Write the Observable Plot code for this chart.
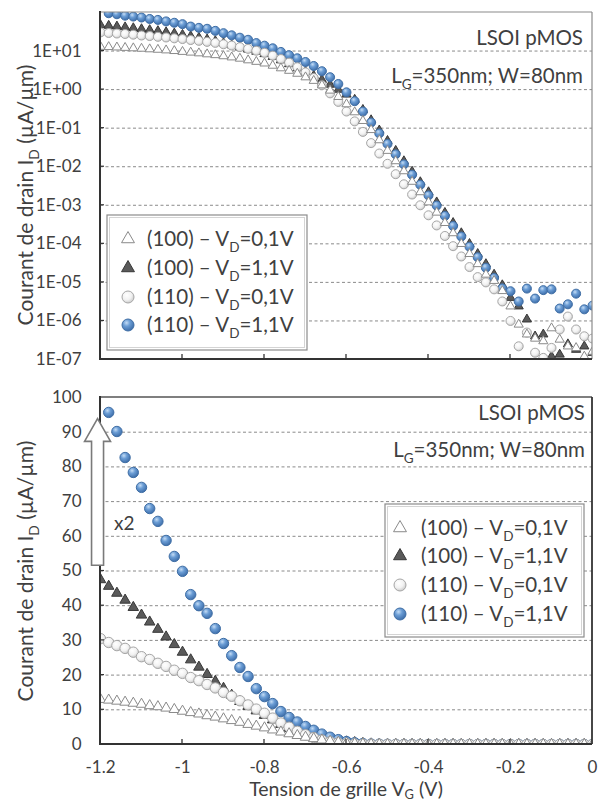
<!DOCTYPE html>
<html><head><meta charset="utf-8">
<script src="https://cdn.jsdelivr.net/npm/d3@7"></script>
<script src="https://cdn.jsdelivr.net/npm/@observablehq/plot@0.6"></script>
<style>
html,body{margin:0;padding:0;background:#fff;}
#chart{width:598px;height:802px;overflow:hidden;}
#chart svg{display:block;}
</style></head><body><div id="chart"></div>
<script>
// ---------------- DATA ----------------
const vg = [-1.2,-1.18,-1.16,-1.14,-1.12,-1.1,-1.08,-1.06,-1.04,-1.02,
  -1,-0.98,-0.96,-0.94,-0.92,-0.9,-0.88,-0.86,-0.84,-0.82,
  -0.8,-0.78,-0.76,-0.74,-0.72,-0.7,-0.68,-0.66,-0.64,-0.62,
  -0.6,-0.58,-0.56,-0.54,-0.52,-0.5,-0.48,-0.46,-0.44,-0.42,
  -0.4,-0.38,-0.36,-0.34,-0.32,-0.3,-0.28,-0.26,-0.24,-0.22,
  -0.2,-0.18,-0.16,-0.14,-0.12,-0.1,-0.08,-0.06,-0.04,-0.02,0];

// (100) - VD=0,1V  (µA/µm)
const id100_01 = [13.0,12.8,12.5,12.2,11.9,11.6,11.2,10.9,10.5,10.1,
  9.6,9.2,8.8,8.3,7.9,7.4,6.9,6.4,5.8,5.3,
  4.8,4.2,3.6,3.1,2.6,2.1,1.7,1.3,0.95,0.65,
  0.42,0.26,0.155,0.09,0.049,0.026,0.014,0.0077,0.0041,0.0022,
  1.2e-3,6.5e-4,3.5e-4,1.9e-4,1.0e-4,5.5e-5,3.0e-5,1.6e-5,1.1e-5,6.0e-6,
  2.4e-6,8.1e-7,4.5e-7,3.5e-7,3.0e-7,6.5e-7,3.3e-7,2.2e-7,2.0e-7,1.2e-7,
  1.6e-7];
// (100) - VD=1,1V
const id100_11 = [47.5,45.6,43.6,41.6,39.5,37.3,35.3,33.2,31.0,28.8,
  26.6,24.4,22.3,20.2,18.2,16.2,14.2,12.4,11.0,9.7,
  8.4,7.1,5.8,4.6,3.6,2.9,2.3,1.8,1.35,1.0,
  0.75,0.55,0.30,0.162,0.088,0.047,0.026,0.014,0.0075,0.004,
  2.2e-3,1.2e-3,6.4e-4,3.5e-4,1.9e-4,1.0e-4,5.5e-5,3.0e-5,1.6e-5,8.5e-6,
  4.0e-6,2.4e-6,1.1e-6,4.0e-7,4.5e-7,1.2e-7,1.35e-7,2.5e-7,1.8e-7,2.2e-7,
  1.5e-7];
// (110) - VD=0,1V
const id110_01 = [30.5,29.4,28.5,27.7,26.6,25.3,24.5,23.4,22.5,21.4,
  20.5,19.3,18.4,17.3,16.3,15.0,13.9,12.6,11.4,10.2,
  9.0,7.6,6.2,5.0,3.8,2.8,2.0,1.3,0.8,0.48,
  0.27,0.15,0.08,0.041,0.022,0.0119,0.0064,0.0035,0.0019,0.001,
  5.5e-4,3.0e-4,1.6e-4,8.7e-5,4.7e-5,2.5e-5,1.37e-5,1.0e-5,6.6e-6,3.2e-6,
  1.0e-6,2.2e-7,5.0e-7,1.5e-7,1.1e-7,2.0e-7,6.0e-7,1.3e-6,6.0e-7,4.0e-7,
  3.5e-7];
// (110) - VD=1,1V
const id110_11 = [null,95.7,90.2,82.7,78.4,74.1,68.0,64.3,58.8,54.2,
  49.9,43.2,40.0,37.8,33.4,29.1,25.6,22.2,19.6,16.1,
  13.8,11.8,9.5,7.8,6.5,5.2,4.1,3.0,2.1,1.4,
  0.85,0.5,0.27,0.14,0.073,0.039,0.021,0.0115,0.0062,0.0034,
  1.8e-3,9.8e-4,5.3e-4,2.9e-4,1.55e-4,8.4e-5,4.5e-5,2.4e-5,1.3e-5,7.0e-6,
  5.9e-6,3.2e-6,6.9e-6,3.8e-6,6.3e-6,6.6e-6,2.1e-6,2.7e-6,5.1e-6,2.0e-6,
  2.5e-6];

const legendOrient = ["(100)", "(100)", "(110)", "(110)"];
const legendVd = ["0,1V", "1,1V", "0,1V", "1,1V"];

const xTicks = [-1.2, -1, -0.8, -0.6, -0.4, -0.2, 0];
const xTickLabels = ["-1.2", "-1", "-0.8", "-0.6", "-0.4", "-0.2", "0"];
const yTicksLog = [1e1, 1e0, 1e-1, 1e-2, 1e-3, 1e-4, 1e-5, 1e-6, 1e-7];
const yTickLabelsLog = ["1E+01","1E+00","1E-01","1E-02","1E-03","1E-04","1E-05","1E-06","1E-07"];
const yTicksLin = [0, 10, 20, 30, 40, 50, 60, 70, 80, 90, 100];
const yTickLabelsLin = ["0","10","20","30","40","50","60","70","80","90","100"];

const annoDevice = "LSOI pMOS";
const annoGeom = ["L", {sub: "G"}, "=350nm; W=80nm"];
const yTitle = ["Courant de drain I", {sub: "D"}, " (µA/µm)"];
const xTitle = ["Tension de grille V", {sub: "G"}, " (V)"];
// ratio arrow (linear panel): at Vg, from Id to Id
const arrowVg = -1.206, arrowFrom = 51.5, arrowHeadBase = 87.2, arrowTo = 93.8;
const ratioLabel = "x2", ratioLabelVg = -1.166, ratioLabelId = 63.6;

// ---------------- STYLE ----------------
const FONT = "Lato, 'Noto Sans', sans-serif";
const TXT = "#404040";
const series = {
  A: {values: id100_01, symbol: "triangle", fill: "#ffffff", stroke: "#8a8a8a"},
  B: {values: id100_11, symbol: "triangle", fill: "#5a5a5a", stroke: "#383838"},
  C: {values: id110_01, symbol: "circle", grad: "white", stroke: "#a6a6a6"},
  D: {values: id110_11, symbol: "circle", grad: "blue", stroke: "#3f6ea5"}
};
const legendKeys = ["A", "B", "C", "D"];
const drawOrder = ["B", "D", "C", "A"];

function addText(g, {x, y, parts, size, anchor = "start", fill = TXT, rotate = 0, subShift = 0.27}) {
  const t = g.append("text")
    .attr("transform", `translate(${x},${y})` + (rotate ? ` rotate(${rotate})` : ""))
    .attr("text-anchor", anchor).attr("font-family", FONT)
    .attr("font-size", size).attr("fill", fill);
  let shift = 0;
  for (const p of parts) {
    const isSub = typeof p === "object";
    const target = isSub ? size * subShift : 0;
    const ts = t.append("tspan").text(isSub ? p.sub : p);
    if (isSub) ts.attr("font-size", size * 0.66);
    if (target !== shift) { ts.attr("dy", target - shift); shift = target; }
  }
  return t;
}

function fillOf(s, gid) { return s.grad ? `url(#${gid}-${s.grad})` : s.fill; }

function drawMarker(g, s, cx, cy, r, gid) {
  if (s.symbol === "circle") {
    g.append("circle").attr("cx", cx).attr("cy", cy).attr("r", r)
      .attr("fill", fillOf(s, gid)).attr("stroke", s.stroke).attr("stroke-width", 1);
  } else {
    g.append("path").attr("transform", `translate(${cx},${cy})`)
      .attr("d", d3.symbol(d3.symbolTriangle, Math.PI * r * r)())
      .attr("fill", s.fill).attr("stroke", s.stroke).attr("stroke-width", 1);
  }
}

function defsMark(gid) {
  return () => {
    const g = d3.create("svg:g");
    const defs = g.append("defs");
    const b = defs.append("radialGradient").attr("id", gid + "-blue")
      .attr("cx", "38%").attr("cy", "32%").attr("r", "72%");
    b.append("stop").attr("offset", "0%").attr("stop-color", "#c4dcf5");
    b.append("stop").attr("offset", "40%").attr("stop-color", "#6b9dd5");
    b.append("stop").attr("offset", "100%").attr("stop-color", "#3a6aa6");
    const w = defs.append("radialGradient").attr("id", gid + "-white")
      .attr("cx", "40%").attr("cy", "35%").attr("r", "70%");
    w.append("stop").attr("offset", "0%").attr("stop-color", "#ffffff");
    w.append("stop").attr("offset", "55%").attr("stop-color", "#f2f2f2");
    w.append("stop").attr("offset", "100%").attr("stop-color", "#c6c6c6");
    return g.node();
  };
}

function frameMark({topColor, topW, rightColor, rightW, axisColor, axisW, yTickVals}) {
  return (index, scales, values, dim) => {
    const {width, height, marginLeft: ml, marginRight: mr, marginTop: mt, marginBottom: mb} = dim;
    const x0 = ml, x1 = width - mr, y0 = mt, y1 = height - mb;
    const g = d3.create("svg:g").attr("fill", "none");
    g.append("line").attr("x1", x0).attr("x2", x1).attr("y1", y0).attr("y2", y0)
      .attr("stroke", topColor).attr("stroke-width", topW);
    g.append("line").attr("x1", x1).attr("x2", x1).attr("y1", y0).attr("y2", y1)
      .attr("stroke", rightColor).attr("stroke-width", rightW);
    for (const t of xTicks.slice(1, -1)) {
      const px = scales.x(t);
      g.append("line").attr("x1", px).attr("x2", px).attr("y1", y1).attr("y2", y1 - 5)
        .attr("stroke", axisColor).attr("stroke-width", 1.3);
    }
    for (const t of yTickVals) {
      const py = scales.y(t);
      g.append("line").attr("x1", x0).attr("x2", x0 + 4).attr("y1", py).attr("y2", py)
        .attr("stroke", axisColor).attr("stroke-width", 1.2);
    }
    g.append("line").attr("x1", x0).attr("x2", x0).attr("y1", y0 - 1).attr("y2", y1 + 1)
      .attr("stroke", axisColor).attr("stroke-width", axisW);
    g.append("line").attr("x1", x0 - 1).attr("x2", x1).attr("y1", y1).attr("y2", y1)
      .attr("stroke", axisColor).attr("stroke-width", axisW);
    return g.node();
  };
}

function legendMark(gid, {x, y, w, h, mx, tx, rows, rc, rt, size}) {
  return () => {
    const g = d3.create("svg:g");
    g.append("rect").attr("x", x).attr("y", y).attr("width", w).attr("height", h)
      .attr("fill", "#fff").attr("stroke", "#8c8c8c").attr("stroke-width", 1.2);
    g.append("rect").attr("x", x + 2.5).attr("y", y + 2.5).attr("width", w - 5).attr("height", h - 5)
      .attr("fill", "none").attr("stroke", "#d4d4d4").attr("stroke-width", 1);
    legendKeys.forEach((k, i) => {
      const s = series[k];
      drawMarker(g, s, mx, rows[i], s.symbol === "circle" ? rc : rt, gid);
      addText(g, {x: tx, y: rows[i] + size * 0.36,
        parts: [legendOrient[i] + " – V", {sub: "D"}, "=" + legendVd[i]], size});
    });
    return g.node();
  };
}

function annoMark({xEnd, y1, y2, size, yTitleX, yTitleY, titleSize, xTitle: xt}) {
  return () => {
    const g = d3.create("svg:g");
    addText(g, {x: xEnd, y: y1, parts: [annoDevice], size, anchor: "end"});
    addText(g, {x: xEnd, y: y2, parts: annoGeom, size, anchor: "end"});
    addText(g, {x: yTitleX, y: yTitleY, parts: yTitle, size: titleSize, anchor: "middle", rotate: -90});
    if (xt) addText(g, {x: xt.x, y: xt.y, parts: xTitle, size: xt.size, anchor: "middle", subShift: 0.17});
    return g.node();
  };
}

function arrowMark() {
  return (index, scales) => {
    const cx = scales.x(arrowVg), yb = scales.y(arrowFrom), yh = scales.y(arrowHeadBase), yt = scales.y(arrowTo);
    const g = d3.create("svg:g");
    g.append("path")
      .attr("d", `M${cx - 6},${yb}V${yh}H${cx - 13}L${cx},${yt}L${cx + 13},${yh}H${cx + 6}V${yb}Z`)
      .attr("fill", "#fff").attr("stroke", "#7a7a7a").attr("stroke-width", 1.6)
      .attr("stroke-linejoin", "miter");
    addText(g, {x: scales.x(ratioLabelVg), y: scales.y(ratioLabelId) + 7, parts: [ratioLabel], size: 19});
    return g.node();
  };
}

function dotMarks(gid, rc, rt) {
  return drawOrder.map(k => {
    const s = series[k];
    const rows = vg.map((x, i) => ({x, y: s.values[i]})).filter(d => d.y != null && d.y > 0);
    const f = fillOf(s, gid);
    return Plot.dot(rows, {
      x: "x", y: "y", symbol: s.symbol, r: s.symbol === "circle" ? rc : rt,
      fill: s.grad ? () => f : f, stroke: s.stroke, strokeWidth: 1, clip: true
    });
  });
}

const baseStyle = {fontFamily: FONT, fontSize: "17px", color: TXT, background: "#fff", overflow: "visible"};
const xLab = new Map(xTicks.map((t, i) => [t, xTickLabels[i]]));

// ---------------- TOP PANEL (log) ----------------
const yLabLog = new Map(yTicksLog.map((t, i) => [t, yTickLabelsLog[i]]));
const topChart = Plot.plot({
  width: 598, height: 380,
  marginLeft: 100, marginRight: 6, marginTop: 12, marginBottom: 21,
  style: baseStyle,
  x: {domain: [-1.2, 0], axis: null},
  y: {type: "log", domain: [1e-7, 1e2]},
  color: {type: "identity"},
  marks: [
    defsMark("gt"),
    Plot.gridY(yTicksLog.slice(0, -1), {stroke: "#8a8a8a", strokeOpacity: 1, strokeWidth: 1, strokeDasharray: "3,2.5"}),
    Plot.axisY(yTicksLog, {tickFormat: d => yLabLog.get(d), tickSize: 0, tickPadding: 19, label: null}),
    ...dotMarks("gt", 4.5, 3.4),
    frameMark({topColor: "#8a8a8a", topW: 1.2, rightColor: "#8a8a8a", rightW: 1.2, axisColor: "#333", axisW: 2, yTickVals: yTicksLog.slice(0, -1)}),
    legendMark("gt", {x: 107, y: 215, w: 200, h: 135, mx: 128, tx: 147, rows: [239, 268, 297, 325], rc: 6, rt: 4.8, size: 20.5}),
    annoMark({xEnd: 583, y1: 45, y2: 83, size: 20.5, yTitleX: 33, yTitleY: 195, titleSize: 21})
  ]
});

// ---------------- BOTTOM PANEL (linear) ----------------
const yLabLin = new Map(yTicksLin.map((t, i) => [t, yTickLabelsLin[i]]));
const bottomChart = Plot.plot({
  width: 598, height: 422,
  marginLeft: 100, marginRight: 6, marginTop: 17, marginBottom: 58,
  style: baseStyle,
  x: {domain: [-1.2, 0]},
  y: {domain: [0, 100]},
  color: {type: "identity"},
  marks: [
    defsMark("gb"),
    Plot.gridY(yTicksLin.slice(1, -1), {stroke: "#8a8a8a", strokeOpacity: 1, strokeWidth: 1, strokeDasharray: "3,2.5"}),
    Plot.axisY(yTicksLin, {tickFormat: d => yLabLin.get(d), tickSize: 0, tickPadding: 19, label: null}),
    Plot.axisX(xTicks, {tickFormat: d => xLab.get(d), tickSize: 0, tickPadding: 16, label: null}),
    ...dotMarks("gb", 5.2, 3.9),
    frameMark({topColor: "#555", topW: 1.5, rightColor: "#333", rightW: 1.8, axisColor: "#333", axisW: 2, yTickVals: yTicksLin.slice(1, -1)}),
    legendMark("gb", {x: 385, y: 124, w: 199, h: 133, mx: 400, tx: 421, rows: [148, 176, 205, 234], rc: 6, rt: 4.8, size: 20.5}),
    arrowMark(),
    annoMark({xEnd: 585, y1: 40, y2: 77, size: 20.5, yTitleX: 33, yTitleY: 191, titleSize: 21, xTitle: {x: 346, y: 416, size: 19.5}})
  ]
});

const root = document.getElementById("chart");
root.appendChild(topChart);
root.appendChild(bottomChart);
</script></body></html>
